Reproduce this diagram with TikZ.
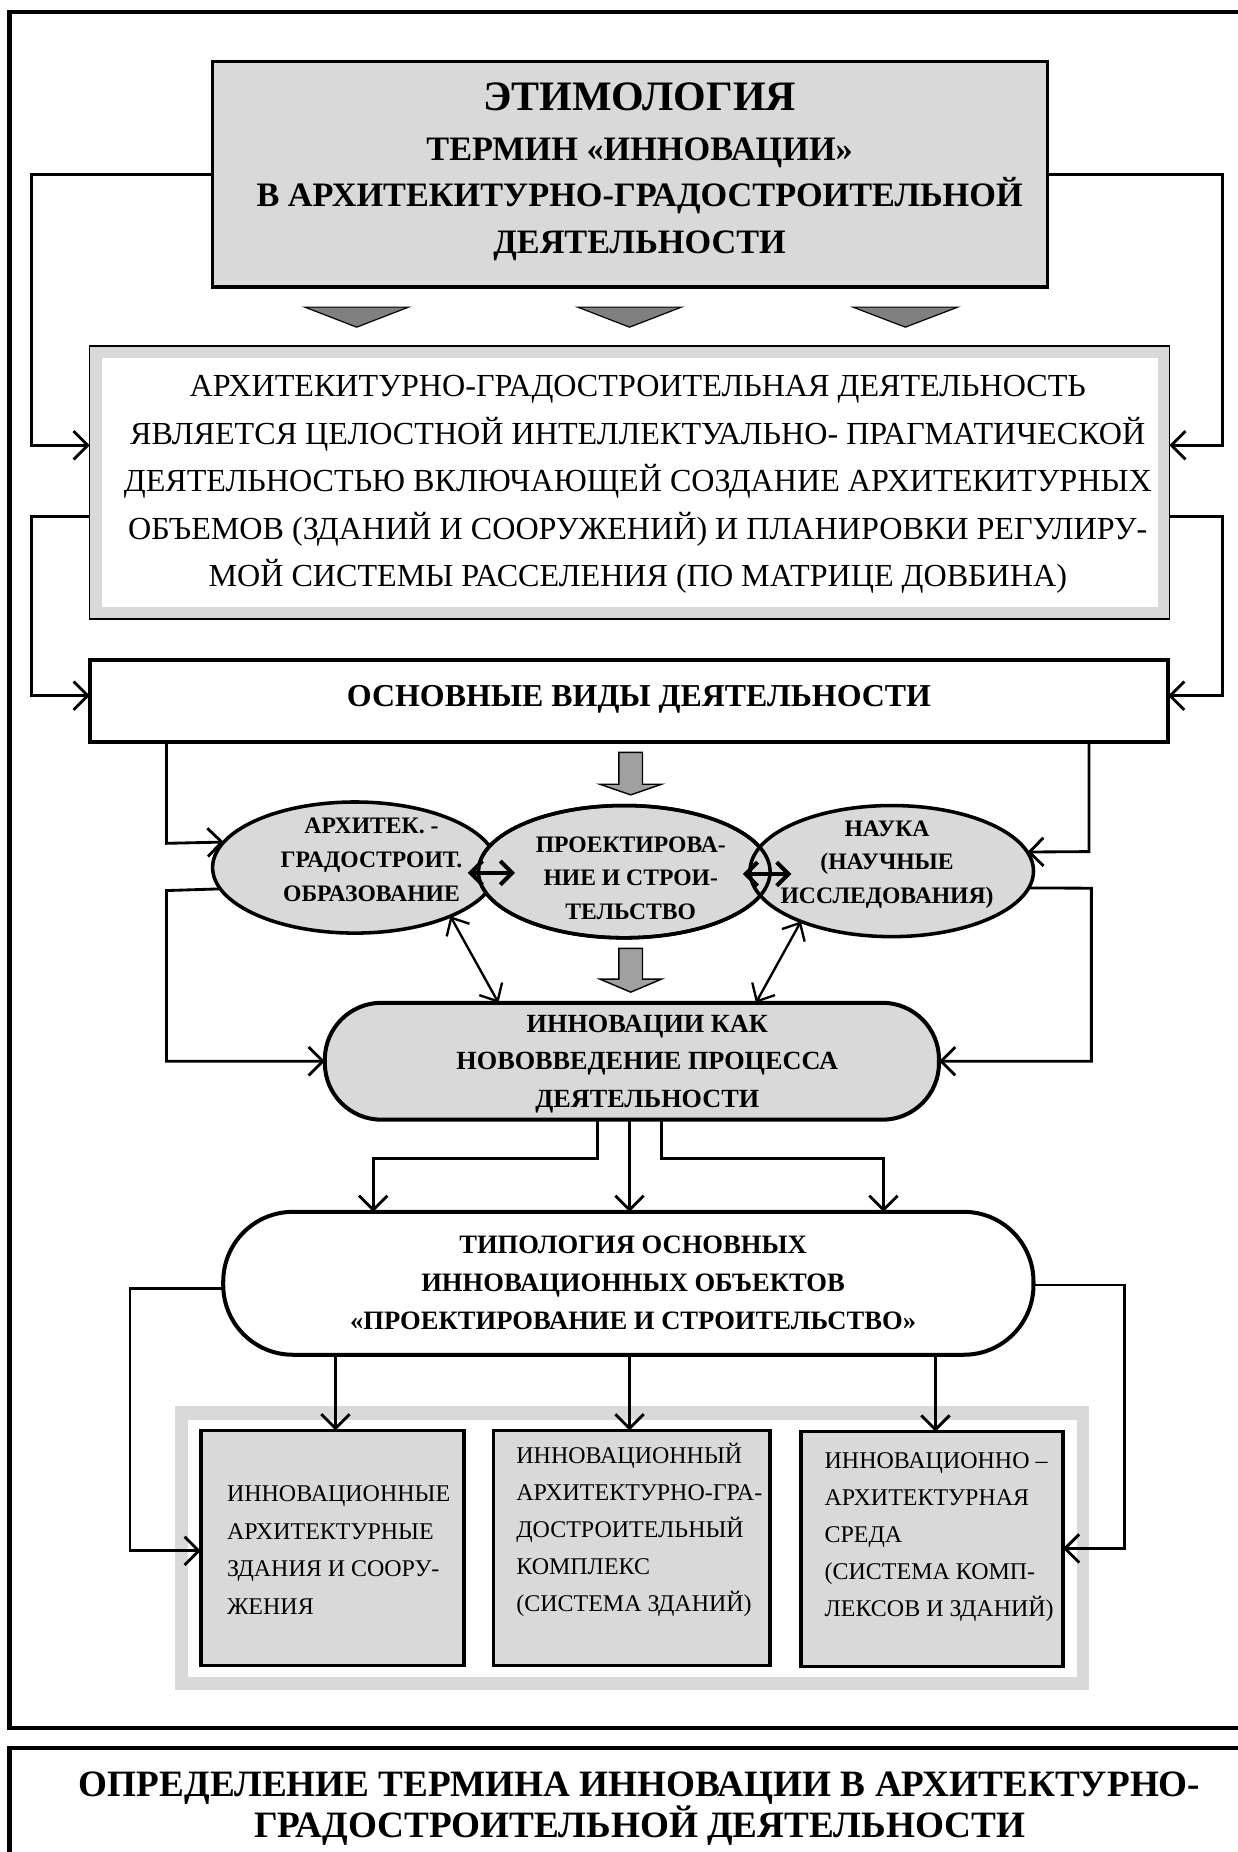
\documentclass[tikz,border=0pt]{standalone}
\usepackage{fontspec}
\setmainfont{Liberation Serif}
\usetikzlibrary{arrows.meta,shapes.geometric}
\definecolor{lg}{RGB}{217,217,217}
\definecolor{dg}{RGB}{128,128,128}
\definecolor{ag}{RGB}{160,160,160}
\newcommand\mylines[8]{\foreach \mytext [count=\i from 0] in {#8}{\node[anchor=#2,inner sep=0pt,font=\fontsize{#7}{#7}\selectfont#3] (#1-\i) at (#4,{#5+\i*#6+0.3275*#7}) {\mytext};}}
\begin{document}
\begin{tikzpicture}[x=1pt,y=-1pt,
  conn/.style={line width=2.4pt,-{Straight Barb[length=12pt,width=24pt]}},
  dbl/.style={line width=3.4pt,{Straight Barb[length=10pt,width=20pt]}-{Straight Barb[length=10pt,width=20pt]}},
  thindbl/.style={line width=2pt,{Straight Barb[length=12pt,width=22pt]}-{Straight Barb[length=12pt,width=22pt]}},
  box/.style={draw,line width=3pt,inner sep=0pt,outer sep=0pt},
  ell/.style={ellipse,fill=lg,inner sep=0pt,outer sep=0pt},
  eline/.style={line width=3pt},
  fat/.style={fill=ag,draw=black,line width=1.2pt,line join=miter}]
\useasboundingbox (0,0) rectangle (1048,1568);
\clip (0,0) rectangle (1048,1568);

% frames
\draw[line width=3.6pt] (8,10) rectangle (1090,1463);
\draw[line width=3.6pt] (8,1480) rectangle (1090,1620);

% title
\node[box,fill=lg,minimum width=707,minimum height=191] (tt) at (533.5,147.5) {};
\mylines{tta}{base}{\bfseries}{541.5}{82}{0}{35.5}{{ЭТИМОЛОГИЯ}}
\mylines{ttb}{base}{\bfseries}{541.5}{126}{39.5}{29}{{ТЕРМИН «ИННОВАЦИИ»},{В АРХИТЕКИТУРНО-ГРАДОСТРОИТЕЛЬНОЙ},{ДЕЯТЕЛЬНОСТИ}}

% triangles
\filldraw[fill=dg,line width=1pt] (258,260) -- (346,260) -- (302,277) -- cycle;
\filldraw[fill=dg,line width=1pt] (489,260) -- (577,260) -- (533,277) -- cycle;
\filldraw[fill=dg,line width=1pt] (722,260) -- (811,260) -- (766.5,277) -- cycle;

% box 2
\node[draw,line width=1.2pt,fill=lg,inner sep=0pt,outer sep=0pt,minimum width=914,minimum height=231] (b2) at (533,408.5) {};
\node[fill=white,inner sep=0pt,minimum width=894,minimum height=211] (b2i) at (533,408.5) {};
\mylines{b2t}{base}{}{540}{327}{40.25}{27.2}{{АРХИТЕКИТУРНО-ГРАДОСТРОИТЕЛЬНАЯ ДЕЯТЕЛЬНОСТЬ},{ЯВЛЯЕТСЯ ЦЕЛОСТНОЙ ИНТЕЛЛЕКТУАЛЬНО- ПРАГМАТИЧЕСКОЙ},{ДЕЯТЕЛЬНОСТЬЮ ВКЛЮЧАЮЩЕЙ СОЗДАНИЕ АРХИТЕКИТУРНЫХ},{ОБЪЕМОВ (ЗДАНИЙ И СООРУЖЕНИЙ) И ПЛАНИРОВКИ РЕГУЛИРУ-},{МОЙ СИСТЕМЫ РАССЕЛЕНИЯ (ПО МАТРИЦЕ ДОВБИНА)}}

% box 3
\node[box,line width=3.4pt,fill=white,minimum width=913,minimum height=69] (b3) at (532.5,593.5) {};
\mylines{b3t}{base}{\bfseries}{541}{589}{0}{27}{{ОСНОВНЫЕ ВИДЫ ДЕЯТЕЛЬНОСТИ}}

% side connectors top
\draw[conn] (tt.west) -- (27,147.5) |- (b2.west |- 0,377);
\draw[conn] (tt.east) -- (1035,147.5) |- (b2.east |- 0,377);
\draw[conn] (b2.west |- 0,437) -- (27,437) |- (b3.west |- 0,589);
\draw[conn] (b2.east |- 0,437) -- (1035,437) |- (b3.east |- 0,589);

% fat arrows
\path[fat] (524,637) -- (544,637) -- (544,664) -- (560,664) -- (534,673) -- (508,664) -- (524,664) -- cycle;
\path[fat] (524,803) -- (544,803) -- (544,829) -- (560,829) -- (534,840) -- (508,829) -- (524,829) -- cycle;

% ellipses
\node[ell,minimum width=241,minimum height=111] (e1) at (300.5,734.5) {};
\draw[eline] (e1.center) ellipse [x radius=120.5,y radius=55.5];
\node[ell,minimum width=247,minimum height=112] (e2) at (528.5,738) {};
\draw[eline] (e2.center) ellipse [x radius=123.5,y radius=56];
\node[ell,minimum width=240,minimum height=111] (e3) at (755,737.5) {};
\draw[eline] (e2.center) ellipse [x radius=123.5,y radius=56];
\draw[eline] (e3.center) ellipse [x radius=120,y radius=55.5];
\mylines{e1t}{base}{\bfseries}{314.5}{699}{29}{20}{{АРХИТЕК. -},{ГРАДОСТРОИТ.},{ОБРАЗОВАНИЕ}}
\mylines{e2t}{base}{\bfseries}{534}{715}{28.5}{20}{{ПРОЕКТИРОВА-},{НИЕ И СТРОИ-},{ТЕЛЬСТВО}}
\mylines{e3t}{base}{\bfseries}{751}{702}{28}{20}{{НАУКА},{(НАУЧНЫЕ},{ИССЛЕДОВАНИЯ)}}

\coordinate (d1a) at (396,739);
\coordinate (d1b) at (436,739);
\coordinate (d2a) at (629,740);
\coordinate (d2b) at (670,740);
\draw[dbl] (d1a) -- (d1b);
\draw[dbl] (d2a) -- (d2b);

% connectors box3 -> ellipses
\draw[conn] (b3.south -| 141,0) -- (141,714) -- (e1.169.6);
\draw[conn] (b3.south -| 922,0) -- (922,721) -- (e3.8.2);

% stadium 1
\node[box,line width=3.4pt,fill=lg,rounded corners=48pt,minimum width=520,minimum height=99] (s1) at (535,898.5) {};
\mylines{s1t}{base}{\bfseries}{548}{867}{31.5}{22.2}{{ИННОВАЦИИ КАК},{НОВОВВЕДЕНИЕ ПРОЦЕССА},{ДЕЯТЕЛЬНОСТИ}}

\draw[conn] (e1.189.8) -- (141,754) |- (s1.west);
\draw[conn] (e3.-7.1) -- (924,752) |- (s1.east);
\draw[thindbl] (e1.-27.3) -- (s1.north -| 422,0);
\draw[thindbl] (e3.209.3) -- (s1.north -| 640,0);

% stadium 2
\node[box,line width=3.4pt,fill=white,rounded corners=59pt,minimum width=686,minimum height=121] (s2) at (532,1086.5) {};
\mylines{s2t}{base}{\bfseries}{536}{1054}{32}{22.5}{{ТИПОЛОГИЯ ОСНОВНЫХ},{ИННОВАЦИОННЫХ ОБЪЕКТОВ},{«ПРОЕКТИРОВАНИЕ И СТРОИТЕЛЬСТВО»}}

\draw[conn] (s1.south -| 506,0) -- (506,981) -| (s2.north -| 316,0);
\draw[conn] (s1.south -| 533,0) -- (s2.north -| 533,0);
\draw[conn] (s1.south -| 560,0) -- (560,981) -| (s2.north -| 748,0);

% panel and boxes
\node[fill=lg,inner sep=0pt,minimum width=774,minimum height=241] (pnl) at (535,1310.5) {};
\node[fill=white,inner sep=0pt,minimum width=753,minimum height=218] (pnli) at (535.5,1311) {};
\node[box,fill=lg,minimum width=223,minimum height=199] (ba) at (281.5,1310.5) {};
\node[box,fill=lg,minimum width=234,minimum height=199] (bb) at (535,1310.5) {};
\node[box,fill=lg,minimum width=222,minimum height=199] (bc) at (789,1311.5) {};
\mylines{bat}{base west}{}{192}{1265}{31.7}{20.3}{{ИННОВАЦИОННЫЕ},{АРХИТЕКТУРНЫЕ},{ЗДАНИЯ И СООРУ-},{ЖЕНИЯ}}
\mylines{bbt}{base west}{}{437}{1232}{31.5}{20.3}{{ИННОВАЦИОННЫЙ},{АРХИТЕКТУРНО-ГРА-},{ДОСТРОИТЕЛЬНЫЙ},{КОМПЛЕКС},{(СИСТЕМА ЗДАНИЙ)}}
\mylines{bct}{base west}{}{698}{1237}{31.3}{20.3}{{ИННОВАЦИОННО –},{АРХИТЕКТУРНАЯ},{СРЕДА},{(СИСТЕМА КОМП-},{ЛЕКСОВ И ЗДАНИЙ)}}

\draw[conn] (s2.west |- 0,1091) -- (110,1091) |- (ba.west |- 0,1313);
\draw[conn] (s2.east |- 0,1088) -- (952,1088) |- (bc.east |- 0,1311);
\draw[conn] (s2.south -| 284,0) -- (ba.north -| 284,0);
\draw[conn] (s2.south -| 533,0) -- (bb.north -| 533,0);
\draw[conn] (s2.south -| 792,0) -- (bc.north -| 792,0);

% footer
\mylines{ft}{base}{\bfseries}{541.5}{1511}{34}{31.5}{{ОПРЕДЕЛЕНИЕ ТЕРМИНА ИННОВАЦИИ В АРХИТЕКТУРНО-},{ГРАДОСТРОИТЕЛЬНОЙ ДЕЯТЕЛЬНОСТИ}}
\end{tikzpicture}
\end{document}
